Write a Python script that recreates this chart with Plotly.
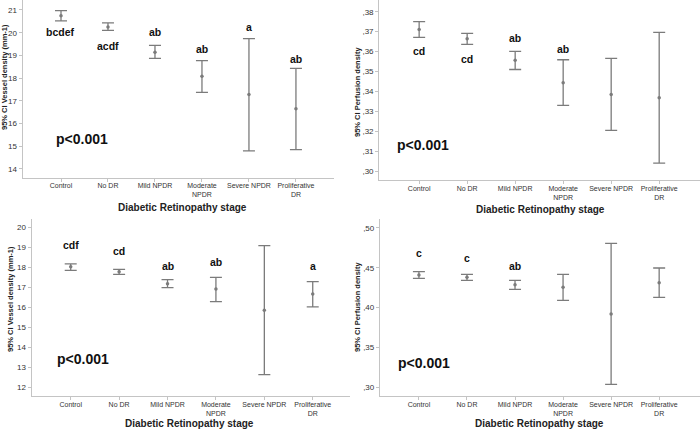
import plotly.graph_objects as go

categories = ["Control", "No DR", "Mild NPDR", "Moderate<br>NPDR", "Severe NPDR", "Proliferative<br>DR"]

# Panel A: vessel density (top-left)
vd1_mean = [20.75, 20.25, 19.14, 18.08, 17.28, 16.65]
vd1_upper = [20.97, 20.43, 19.44, 18.77, 19.74, 18.43]
vd1_lower = [20.52, 20.10, 18.87, 17.37, 14.79, 14.85]
vd1_letters = ["bcdef", "acdf", "ab", "ab", "a", "ab"]

# Panel B: perfusion density (top-right)
pd1_mean = [0.3711, 0.3664, 0.3556, 0.3444, 0.3385, 0.3368]
pd1_upper = [0.3750, 0.3691, 0.3601, 0.3559, 0.3566, 0.3696]
pd1_lower = [0.3671, 0.3636, 0.3510, 0.3330, 0.3204, 0.3040]
pd1_letters = ["cd", "cd", "ab", "ab", "", ""]

# Panel C: vessel density (bottom-left)
vd2_mean = [18.03, 17.78, 17.18, 16.92, 15.85, 16.67]
vd2_upper = [18.17, 17.90, 17.38, 17.50, 19.08, 17.28]
vd2_lower = [17.85, 17.65, 16.98, 16.28, 12.63, 16.02]
vd2_letters = ["cdf", "cd", "ab", "ab", "", "a"]

# Panel D: perfusion density (bottom-right)
pd2_mean = [0.4409, 0.4379, 0.4287, 0.4254, 0.3918, 0.4312]
pd2_upper = [0.4451, 0.4417, 0.4342, 0.4417, 0.4807, 0.4497]
pd2_lower = [0.4367, 0.4342, 0.4229, 0.4090, 0.3034, 0.4128]
pd2_letters = ["c", "c", "ab", "", "", ""]

vd1_ticks = [14, 15, 16, 17, 18, 19, 20, 21]
pd1_ticks = [0.30, 0.31, 0.32, 0.33, 0.34, 0.35, 0.36, 0.37, 0.38]
vd2_ticks = [12, 13, 14, 15, 16, 17, 18, 19, 20]
pd2_ticks = [0.30, 0.35, 0.40, 0.45, 0.50]

W, H = 700, 429
FONT = "Liberation Sans, Arial, sans-serif"
AXC = "#c4c4c4"
BARC = "#7b7b7b"

fig = go.Figure()

panels = [
    dict(mean=vd1_mean, up=vd1_upper, lo=vd1_lower, letters=vd1_letters,
         letter_y=[20.03, 19.41, 20.03, 19.28, 20.25, 18.84],
         ticks=vd1_ticks, ticktext=[str(t) for t in vd1_ticks],
         px=(22.7, 334), py=(0, 177.5), yr=[13.62, 21.44], xr=[-0.815, 5.81],
         ytitle="95% CI Vessel density (mm-1)", ytitle_pos=(4, 77),
         xtitle_pos=(182, 207.5), p_pos=(0.45, 15.32)),
    dict(mean=pd1_mean, up=pd1_upper, lo=pd1_lower, letters=pd1_letters,
         letter_y=[0.3603, 0.3562, 0.3668, 0.3613, 0, 0],
         ticks=pd1_ticks, ticktext=["," + f"{t:.2f}"[2:] for t in pd1_ticks],
         px=(379.3, 700), py=(0, 180), yr=[0.2955, 0.3859], xr=[-0.83, 5.85],
         ytitle="95% CI Perfusion density", ytitle_pos=(357, 92),
         xtitle_pos=(540, 209), p_pos=(0.08, 0.3131)),
    dict(mean=vd2_mean, up=vd2_upper, lo=vd2_lower, letters=vd2_letters,
         letter_y=[19.12, 18.82, 18.07, 18.27, 0, 18.07],
         ticks=vd2_ticks, ticktext=[str(t) for t in vd2_ticks],
         px=(31.7, 350), py=(219, 396.3), yr=[11.55, 20.415], xr=[-0.806, 5.77],
         ytitle="95% CI Vessel density (mm-1)", ytitle_pos=(10, 299),
         xtitle_pos=(189, 423), p_pos=(0.25, 13.42)),
    dict(mean=pd2_mean, up=pd2_upper, lo=pd2_lower, letters=pd2_letters,
         letter_y=[0.4686, 0.4623, 0.4522, 0, 0, 0],
         ticks=pd2_ticks, ticktext=["," + f"{t:.2f}"[2:] for t in pd2_ticks],
         px=(380, 700), py=(219, 396), yr=[0.2887, 0.5113], xr=[-0.81, 5.85],
         ytitle="95% CI Perfusion density", ytitle_pos=(357, 307),
         xtitle_pos=(539, 423), p_pos=(0.10, 0.330)),
]

annotations = []
xs = list(range(len(categories)))
for i, p in enumerate(panels):
    n = "" if i == 0 else str(i + 1)
    xa, ya = "x" + n, "y" + n
    fig.add_trace(go.Scatter(
        x=xs, y=p["mean"], mode="markers", xaxis=xa, yaxis=ya,
        marker=dict(size=3.5, color=BARC, symbol="circle"),
        error_y=dict(type="data", symmetric=False,
                     array=[u - m for u, m in zip(p["up"], p["mean"])],
                     arrayminus=[m - l for m, l in zip(p["mean"], p["lo"])],
                     color=BARC, thickness=1.3, width=6),
        showlegend=False, hoverinfo="skip"))
    xd = [p["px"][0] / W, min(p["px"][1] / W, 1)]
    yd = [1 - p["py"][1] / H, 1 - p["py"][0] / H]
    fig.update_layout(**{
        "xaxis" + n: dict(domain=xd, range=p["xr"], tickvals=xs, ticktext=categories,
                          tickangle=0, automargin=False, ticklabelstandoff=-2,
                          showline=True, linecolor=AXC, linewidth=1.3, ticks="outside",
                          ticklen=3, tickcolor=AXC, showgrid=False, zeroline=False,
                          anchor=ya, tickfont=dict(size=7, color="#333", family=FONT)),
        "yaxis" + n: dict(domain=yd, range=p["yr"], tickvals=p["ticks"], ticktext=p["ticktext"],
                          automargin=False,
                          showline=True, linecolor=AXC, linewidth=1.3, ticks="outside",
                          ticklen=3, tickcolor=AXC, showgrid=False, zeroline=False,
                          anchor=xa, tickfont=dict(size=8, color="#333", family=FONT)),
    })
    for j, lab in enumerate(p["letters"]):
        if lab:
            annotations.append(dict(x=j, y=p["letter_y"][j], xref=xa, yref=ya, text=f"<b>{lab}</b>",
                                    xanchor="center", yanchor="middle",
                                    showarrow=False, font=dict(size=10.5, color="#111", family=FONT)))
    annotations.append(dict(x=p["p_pos"][0], y=p["p_pos"][1], xref=xa, yref=ya, text="<b>p<0.001</b>",
                            xanchor="center", yanchor="middle",
                            showarrow=False, font=dict(size=14, color="#111", family=FONT)))
    annotations.append(dict(x=p["ytitle_pos"][0] / W, y=1 - p["ytitle_pos"][1] / H, xref="paper", yref="paper",
                            xanchor="center", yanchor="middle",
                            text="<b>" + p["ytitle"] + "</b>", textangle=-90, showarrow=False,
                            font=dict(size=7.5, color="#222", family=FONT)))
    annotations.append(dict(x=p["xtitle_pos"][0] / W, y=1 - p["xtitle_pos"][1] / H, xref="paper", yref="paper",
                            xanchor="center", yanchor="middle",
                            text="<b>Diabetic Retinopathy stage</b>", showarrow=False,
                            font=dict(size=10, color="#222", family=FONT)))

fig.update_layout(width=W, height=H, margin=dict(l=0, r=0, t=0, b=0),
                  paper_bgcolor="white", plot_bgcolor="white",
                  annotations=annotations, font=dict(family=FONT))
fig.write_html("out.html", config={"displayModeBar": False},
               post_script="document.body.style.margin='0';document.body.style.overflow='hidden';")
